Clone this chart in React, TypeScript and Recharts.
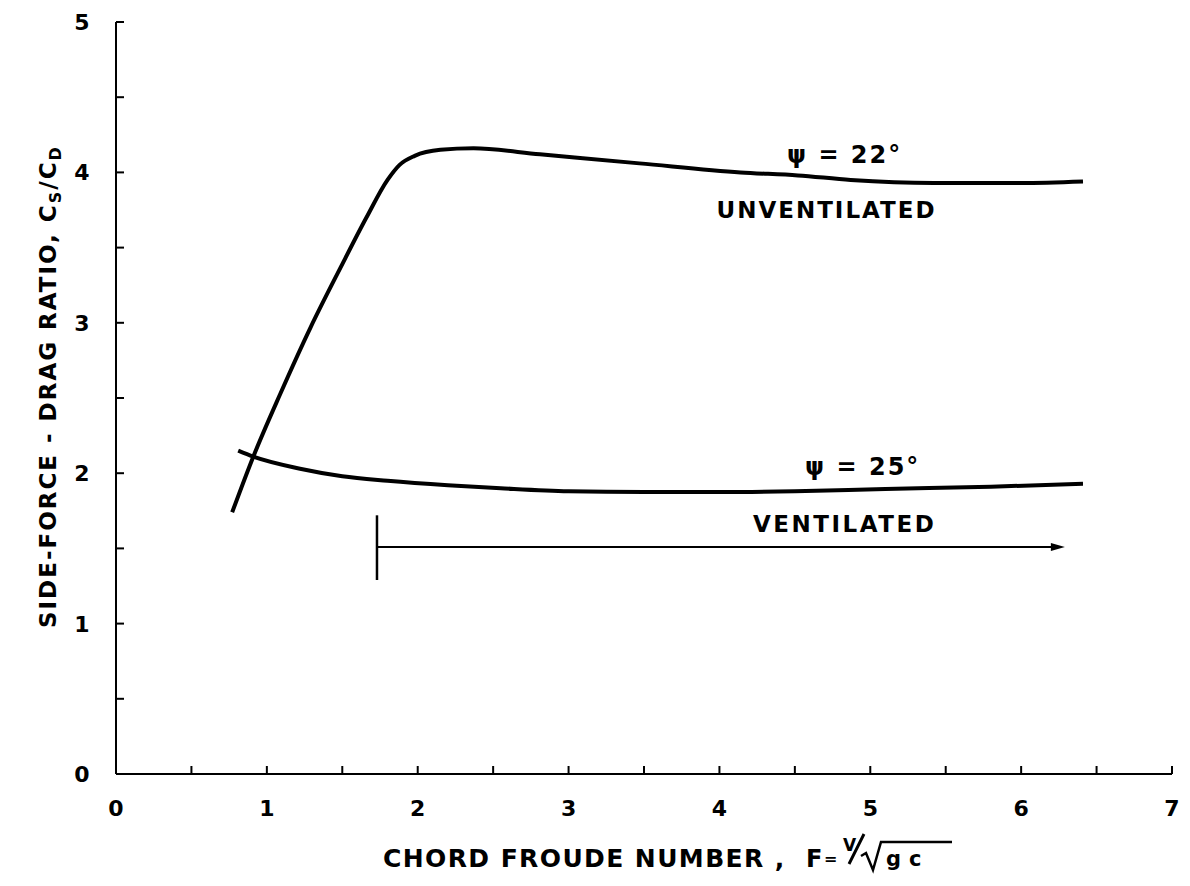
import { LineChart, Line, XAxis, YAxis, ReferenceLine, ReferenceDot } from "recharts";

// chord Froude number vs side-force / drag ratio
const unventilated22 = [
  { f: 0.77, ratio: 1.74 },
  { f: 0.91, ratio: 2.11 },
  { f: 1.09, ratio: 2.53 },
  { f: 1.29, ratio: 2.97 },
  { f: 1.49, ratio: 3.37 },
  { f: 1.66, ratio: 3.7 },
  { f: 1.8, ratio: 3.95 },
  { f: 1.88, ratio: 4.05 },
  { f: 1.98, ratio: 4.11 },
  { f: 2.15, ratio: 4.15 },
  { f: 2.37, ratio: 4.16 },
  { f: 2.81, ratio: 4.12 },
  { f: 3.47, ratio: 4.06 },
  { f: 4.14, ratio: 4.0 },
  { f: 4.52, ratio: 3.98 },
  { f: 4.87, ratio: 3.95 },
  { f: 5.42, ratio: 3.93 },
  { f: 6.0, ratio: 3.93 },
  { f: 6.41, ratio: 3.94 },
];

const ventilated25 = [
  { f: 0.81, ratio: 2.15 },
  { f: 0.91, ratio: 2.11 },
  { f: 1.22, ratio: 2.03 },
  { f: 1.5, ratio: 1.98 },
  { f: 1.8, ratio: 1.95 },
  { f: 2.2, ratio: 1.92 },
  { f: 2.55, ratio: 1.9 },
  { f: 3.0, ratio: 1.88 },
  { f: 3.5, ratio: 1.875 },
  { f: 4.0, ratio: 1.875 },
  { f: 4.5, ratio: 1.88 },
  { f: 5.1, ratio: 1.895 },
  { f: 5.8, ratio: 1.91 },
  { f: 6.41, ratio: 1.93 },
];

// ventilated range marker
const ventStart = 1.73;
const ventEnd = 6.29;
const ventLevel = 1.51;
const ventBar = [1.29, 1.72];

const X_TICKS = [0, 0.5, 1, 1.5, 2, 2.5, 3, 3.5, 4, 4.5, 5, 5.5, 6, 6.5, 7];
const Y_TICKS = [0, 0.5, 1, 1.5, 2, 2.5, 3, 3.5, 4, 4.5, 5];

const FONT = "'DejaVu Sans', sans-serif";
const INK = "#000";

function XTick({ x, y, payload }: any) {
  const v = payload.value;
  return (
    <g>
      <line x1={x} y1={y} x2={x} y2={y - 8} stroke={INK} strokeWidth={2} />
      {Number.isInteger(v) && (
        <text x={x} y={y + 42} textAnchor="middle" fontFamily={FONT} fontWeight="bold" fontSize={22} fill={INK}>
          {v}
        </text>
      )}
    </g>
  );
}

function YTick({ x, y, payload }: any) {
  const v = payload.value;
  return (
    <g>
      <line x1={x} y1={y} x2={x + 8} y2={y} stroke={INK} strokeWidth={2} />
      {Number.isInteger(v) && (
        <text x={x - 34} y={y + 8} textAnchor="middle" fontFamily={FONT} fontWeight="bold" fontSize={22} fill={INK}>
          {v}
        </text>
      )}
    </g>
  );
}

const txt = { fontFamily: FONT, fontWeight: "bold" as const, fill: INK };

function YLabel() {
  return (
    <text transform="rotate(-90, 56, 628)" x={56} y={628} fontSize={23} letterSpacing={2} {...txt}>
      SIDE-FORCE - DRAG RATIO,{"  "}C
      <tspan fontSize={16} dy={5}>S</tspan>
      <tspan dy={-5}>/C</tspan>
      <tspan fontSize={16} dy={5}>D</tspan>
    </text>
  );
}

function XLabel() {
  return (
    <g>
      <text x={383} y={867} fontSize={25} letterSpacing={1.4} {...txt}>
        CHORD FROUDE NUMBER ,
      </text>
      <text x={806} y={867} fontSize={24} {...txt}>F</text>
      <text x={824} y={864} fontSize={16} {...txt}>=</text>
      <text x={843} y={851} fontSize={17} {...txt}>V</text>
      <line x1={864} y1={834} x2={849} y2={864} stroke={INK} strokeWidth={3} />
      <path d="M 861 856 L 866 853 L 873 870 L 881 842 L 952 842" fill="none" stroke={INK} strokeWidth={2.5} />
      <text x={886} y={866} fontSize={21} letterSpacing={8} {...txt}>gc</text>
    </g>
  );
}

function Note({ viewBox, text, size = 23, spacing = 2 }: any) {
  const { x, y } = viewBox;
  return (
    <text x={x} y={y} fontSize={size} letterSpacing={spacing} textAnchor="middle" {...txt}>
      {text}
    </text>
  );
}

function ArrowHead({ cx, cy }: any) {
  return <polygon points={`${cx},${cy} ${cx - 14},${cy - 4} ${cx - 14},${cy + 4}`} fill={INK} />;
}

export default function App() {
  return (
    <div style={{ position: "absolute", left: 0, top: 0, width: 1190, height: 886, background: "#fff" }}>
      <LineChart width={1190} height={886} margin={{ top: 22, right: 18, bottom: 52, left: 56 }}>
        <XAxis
          type="number"
          dataKey="f"
          domain={[0, 7]}
          ticks={X_TICKS}
          interval={0}
          tickSize={0}
          tickMargin={0}
          tickLine={false}
          height={60}
          axisLine={{ stroke: INK, strokeWidth: 2 }}
          tick={<XTick />}
          allowDuplicatedCategory={false}
          label={{ content: () => <XLabel /> }}
        />
        <YAxis
          type="number"
          domain={[0, 5]}
          ticks={Y_TICKS}
          interval={0}
          tickSize={0}
          tickMargin={0}
          tickLine={false}
          width={60}
          axisLine={{ stroke: INK, strokeWidth: 2 }}
          tick={<YTick />}
          label={{ content: () => <YLabel /> }}
        />
        <Line
          data={unventilated22}
          dataKey="ratio"
          type="monotone"
          stroke={INK}
          strokeWidth={4}
          dot={false}
          activeDot={false}
          isAnimationActive={false}
        />
        <Line
          data={ventilated25}
          dataKey="ratio"
          type="monotone"
          stroke={INK}
          strokeWidth={4}
          dot={false}
          activeDot={false}
          isAnimationActive={false}
        />
        <ReferenceLine
          segment={[{ x: ventStart, y: ventLevel }, { x: ventEnd - 0.05, y: ventLevel }]}
          stroke={INK}
          strokeWidth={2}
        />
        <ReferenceLine
          segment={[{ x: ventStart, y: ventBar[0] }, { x: ventStart, y: ventBar[1] }]}
          stroke={INK}
          strokeWidth={2.5}
        />
        <ReferenceDot x={ventEnd} y={ventLevel} r={0} shape={<ArrowHead />} />
        <ReferenceDot x={4.83} y={4.06} r={0} fill="none" stroke="none"
          label={{ content: (p: any) => <Note {...p} text="ψ = 22°" size={24} /> }} />
        <ReferenceDot x={4.71} y={3.7} r={0} fill="none" stroke="none"
          label={{ content: (p: any) => <Note {...p} text="UNVENTILATED" spacing={2} /> }} />
        <ReferenceDot x={4.95} y={1.99} r={0} fill="none" stroke="none"
          label={{ content: (p: any) => <Note {...p} text="ψ = 25°" size={24} /> }} />
        <ReferenceDot x={4.83} y={1.61} r={0} fill="none" stroke="none"
          label={{ content: (p: any) => <Note {...p} text="VENTILATED" spacing={2.5} /> }} />
      </LineChart>
    </div>
  );
}
